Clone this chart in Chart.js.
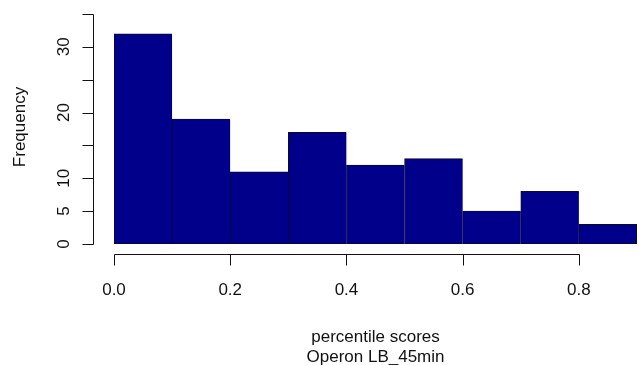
<!DOCTYPE html>
<html>
<head>
<meta charset="utf-8">
<script src="https://cdn.jsdelivr.net/npm/chart.js@4.4.1/dist/chart.umd.min.js"></script>
<style>
  html, body { margin: 0; padding: 0; background: #ffffff; }
  canvas { display: block; }
</style>
</head>
<body>
<canvas id="hist" width="639" height="365"></canvas>
<script>
// Histogram bins (left edges) and their counts
const binStarts = [0.0, 0.1, 0.2, 0.3, 0.4, 0.5, 0.6, 0.7, 0.8];
const binWidth = 0.1;
const counts = [32, 19, 11, 17, 12, 13, 5, 8, 3];

// Axis ticks and labels
const xTicks = [0.0, 0.2, 0.4, 0.6, 0.8];
const xTickLabels = ['0.0', '0.2', '0.4', '0.6', '0.8'];
const yTicks = [0, 5, 10, 15, 20, 25, 30, 35];
const yLabelValues = [0, 5, 10, 20, 30];
const yLabelTexts = ['0', '5', '10', '20', '30'];

// Titles
const xTitleLines = ['percentile scores', 'Operon LB_45min'];
const yTitle = 'Frequency';

const FONT = '17px "Liberation Sans", Arial, Helvetica, sans-serif';
const INK = '#111111';

// Base-graphics style axes, detached from the bars
const detachedAxes = {
  id: 'detachedAxes',
  afterDraw(chart) {
    const { ctx, scales: { x, y } } = chart;
    ctx.save();
    ctx.strokeStyle = INK;
    ctx.fillStyle = INK;
    ctx.lineWidth = 1;
    ctx.font = FONT;

    // x axis
    const axisY = Math.round(y.getPixelForValue(0)) + 10.5;
    const tickEndY = axisY + 11;
    const x0 = Math.round(x.getPixelForValue(xTicks[0])) + 0.5;
    const x1 = Math.round(x.getPixelForValue(xTicks[xTicks.length - 1])) + 0.5;
    ctx.beginPath();
    ctx.moveTo(x0, axisY);
    ctx.lineTo(x1, axisY);
    xTicks.forEach(v => {
      const px = Math.round(x.getPixelForValue(v)) + 0.5;
      ctx.moveTo(px, axisY);
      ctx.lineTo(px, tickEndY);
    });
    ctx.stroke();
    ctx.textAlign = 'center';
    ctx.textBaseline = 'alphabetic';
    xTicks.forEach((v, i) => {
      ctx.fillText(xTickLabels[i], x.getPixelForValue(v), axisY + 40.5);
    });

    // y axis
    const axisX = Math.round(x.getPixelForValue(0)) - 20.5;
    const tickEndX = axisX - 11;
    const yb = Math.round(y.getPixelForValue(yTicks[0])) + 0.5;
    const yt = Math.round(y.getPixelForValue(yTicks[yTicks.length - 1])) + 0.5;
    ctx.beginPath();
    ctx.moveTo(axisX, yb);
    ctx.lineTo(axisX, yt);
    yTicks.forEach(v => {
      const py = Math.round(y.getPixelForValue(v)) + 0.5;
      ctx.moveTo(axisX, py);
      ctx.lineTo(tickEndX, py);
    });
    ctx.stroke();
    yLabelValues.forEach((v, i) => {
      ctx.save();
      ctx.translate(axisX - 25, y.getPixelForValue(v));
      ctx.rotate(-Math.PI / 2);
      ctx.textAlign = 'center';
      ctx.textBaseline = 'alphabetic';
      ctx.fillText(yLabelTexts[i], 0, 0);
      ctx.restore();
    });

    // axis titles
    const midX = x.getPixelForValue(binStarts[0] + (binStarts.length * binWidth) / 2);
    ctx.textAlign = 'center';
    ctx.fillText(xTitleLines[0], midX, axisY + 87);
    ctx.fillText(xTitleLines[1], midX, axisY + 107);

    ctx.save();
    ctx.translate(axisX - 68.5, (y.top + y.bottom) / 2 - 2);
    ctx.rotate(-Math.PI / 2);
    ctx.textAlign = 'center';
    ctx.fillText(yTitle, 0, 0);
    ctx.restore();

    ctx.restore();
  }
};

const lastIndex = counts.length - 1;

new Chart(document.getElementById('hist'), {
  type: 'bar',
  data: {
    datasets: [{
      data: binStarts.map((s, i) => ({ x: s + binWidth / 2, y: counts[i] })),
      backgroundColor: '#00008B',
      borderColor: '#0a0a2a',
      borderWidth: ctx => ctx.dataIndex === lastIndex
        ? 1
        : { top: 1, left: 1, bottom: 1, right: 0 },
      borderSkipped: false,
      barPercentage: 1.0,
      categoryPercentage: 1.0
    }]
  },
  options: {
    responsive: false,
    animation: false,
    layout: { padding: { left: 114, right: 2, top: 14, bottom: 121 } },
    scales: {
      x: { type: 'linear', min: 0, max: 0.9, offset: false, display: false },
      y: { min: 0, max: 35, display: false }
    },
    plugins: {
      legend: { display: false },
      tooltip: { enabled: false }
    }
  },
  plugins: [detachedAxes]
});
</script>
</body>
</html>
